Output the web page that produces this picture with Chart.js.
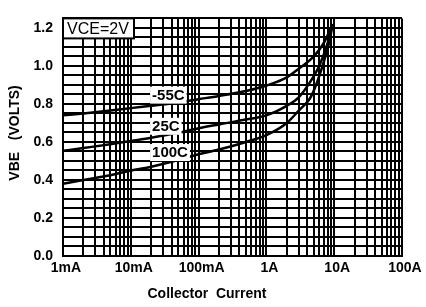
<!DOCTYPE html>
<html lang="en">
<head>
    <meta charset="UTF-8">
    <title>VBE vs Collector Current</title>
    <script src="https://cdn.jsdelivr.net/npm/chart.js"></script>
    <style>
        html, body { margin: 0; padding: 0; background: #fff; }
        #wrap { width: 426px; height: 307px; }
    </style>
</head>
<body>
<div id="wrap"><canvas id="vbeChart" width="426" height="307"></canvas></div>
<script>
    // Axe X : décades du courant collecteur (A)
    const decadeValues = [0.001, 0.01, 0.1, 1, 10, 100];
    const decadeLabels = ['1mA', '10mA', '100mA', '1A', '10A', '100A'];
    const gridSteps = [1, 2, 3, 4, 5, 6, 7, 8, 9];

    // Courbes VBE (V) en fonction de IC (A)
    const currentM55 = [0.001, 0.002, 0.005, 0.01, 0.02, 0.05, 0.1, 0.2, 0.5, 1, 2, 3, 5, 7, 9.5];
    const vbeM55     = [0.74, 0.75, 0.765, 0.778, 0.79, 0.808, 0.825, 0.842, 0.868, 0.897, 0.94, 0.985, 1.05, 1.12, 1.22];

    const current25 = [0.001, 0.002, 0.005, 0.01, 0.02, 0.05, 0.1, 0.2, 0.5, 1, 2, 3, 4.4, 6, 8, 9.5];
    const vbe25     = [0.553, 0.568, 0.588, 0.605, 0.622, 0.648, 0.672, 0.692, 0.718, 0.74, 0.79, 0.835, 0.915, 1.0, 1.12, 1.22];

    const current100 = [0.001, 0.002, 0.005, 0.01, 0.02, 0.05, 0.1, 0.2, 0.5, 1, 2, 3, 4.4, 5.4, 7, 8.5, 9.5];
    const vbe100     = [0.38, 0.40, 0.425, 0.45, 0.47, 0.505, 0.535, 0.56, 0.60, 0.636, 0.70, 0.765, 0.83, 0.9, 1.02, 1.13, 1.22];

    const curveNames = ['-55C', '25C', '100C'];

    // Grille log : 1..9 par décade
    const xGridValues = [];
    decadeValues.forEach(function (d, i) {
        if (i === decadeValues.length - 1) { xGridValues.push(d); return; }
        gridSteps.forEach(function (k) { xGridValues.push(parseFloat((d * k).toPrecision(3))); });
    });

    function toPoints(xs, ys) {
        return xs.map(function (x, i) { return { x: x, y: ys[i] }; });
    }

    Chart.defaults.font.family = '"Liberation Sans", Arial, sans-serif';
    Chart.defaults.color = '#000';

    // Annotations : étiquettes des courbes, boîte VCE, titres des axes
    const annotations = {
        id: 'annotations',
        afterDatasetsDraw(chart) {
            const { ctx, chartArea, scales } = chart;
            const spots = [
                { text: curveNames[0], x: 0.0206, y: 0.849 },
                { text: curveNames[1], x: 0.0206, y: 0.685 },
                { text: curveNames[2], x: 0.0206, y: 0.547 }
            ];
            ctx.save();
            ctx.textBaseline = 'middle';
            ctx.font = 'bold 15px "Liberation Sans", Arial, sans-serif';
            spots.forEach(function (s) {
                const px = scales.x.getPixelForValue(s.x);
                const py = scales.y.getPixelForValue(s.y);
                const w = ctx.measureText(s.text).width;
                ctx.fillStyle = '#fff';
                ctx.fillRect(px - 2, py - 8, w + 4, 17);
                ctx.fillStyle = '#000';
                ctx.fillText(s.text, px, py + 1);
            });

            // Boîte VCE=2V
            ctx.font = '16px "Liberation Sans", Arial, sans-serif';
            ctx.fillStyle = '#fff';
            ctx.fillRect(chartArea.left, chartArea.top, 71, 20);
            ctx.strokeStyle = '#000';
            ctx.lineWidth = 2;
            ctx.strokeRect(chartArea.left, chartArea.top, 71, 20);
            ctx.fillStyle = '#000';
            ctx.fillText('VCE=2V', chartArea.left + 4, chartArea.top + 11);

            // Titres des axes
            ctx.font = 'bold 14px "Liberation Sans", Arial, sans-serif';
            ctx.textAlign = 'center';
            ctx.fillText('Collector  Current', 207, 294);
            ctx.translate(15, 133);
            ctx.rotate(-Math.PI / 2);
            ctx.fillText('VBE   (VOLTS)', 0, 0);
            ctx.restore();
        }
    };

    const ctx = document.getElementById('vbeChart').getContext('2d');
    window.vbeChart = new Chart(ctx, {
        type: 'line',
        data: {
            datasets: [
                { label: curveNames[0], data: toPoints(currentM55, vbeM55) },
                { label: curveNames[1], data: toPoints(current25, vbe25) },
                { label: curveNames[2], data: toPoints(current100, vbe100) }
            ].map(function (ds) {
                return Object.assign(ds, {
                    borderColor: '#000',
                    borderWidth: 2.5,
                    pointRadius: 0,
                    fill: false,
                    cubicInterpolationMode: 'monotone'
                });
            })
        },
        options: {
            responsive: false,
            animation: false,
            devicePixelRatio: 1,
            layout: { padding: { top: 8, right: 24, left: 0, bottom: 0 } },
            plugins: {
                legend: { display: false },
                tooltip: { enabled: false }
            },
            scales: {
                x: {
                    type: 'logarithmic',
                    min: 0.001,
                    max: 100,
                    afterBuildTicks: function (scale) {
                        scale.ticks = xGridValues.map(function (v) { return { value: v }; });
                    },
                    afterFit: function (scale) { scale.height = 51; },
                    grid: { color: '#000', lineWidth: 2, drawTicks: false },
                    border: { display: true, color: '#000', width: 2 },
                    ticks: {
                        autoSkip: false,
                        maxRotation: 0,
                        padding: 4,
                        labelOffset: 3,
                        font: { size: 14, weight: 'bold' },
                        callback: function (value) {
                            const i = decadeValues.findIndex(function (d) { return Math.abs(d - value) / d < 1e-6; });
                            return i >= 0 ? decadeLabels[i] : '';
                        }
                    }
                },
                y: {
                    type: 'linear',
                    min: 0,
                    max: 1.25,
                    afterFit: function (scale) { scale.width = 63; },
                    grid: { color: '#000', lineWidth: 2, drawTicks: false },
                    border: { display: true, color: '#000', width: 2 },
                    ticks: {
                        stepSize: 0.05,
                        autoSkip: false,
                        padding: 10,
                        font: { size: 14, weight: 'bold' },
                        callback: function (value) {
                            return Math.round(value * 100) % 20 === 0 ? value.toFixed(1) : '';
                        }
                    }
                }
            }
        },
        plugins: [annotations]
    });
</script>
</body>
</html>
